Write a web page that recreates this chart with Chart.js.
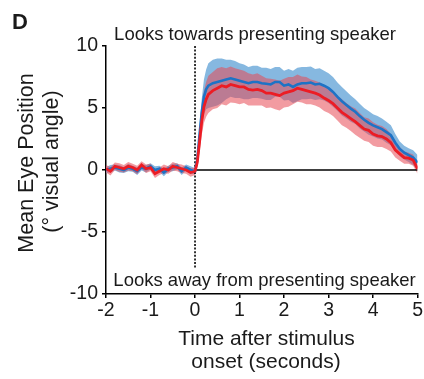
<!DOCTYPE html>
<html>
<head>
<meta charset="utf-8">
<script src="https://cdn.jsdelivr.net/npm/chart.js@4.4.1/dist/chart.umd.min.js"></script>
<style>
  html, body { margin: 0; padding: 0; background: #fff; }
  #wrap { width: 424px; height: 379px; position: relative; }
</style>
</head>
<body>
<div id="wrap"><canvas id="c" width="424" height="379"></canvas></div>
<script>
// ---- data ----
const times = [-2.0,-1.9,-1.8,-1.7,-1.6,-1.5,-1.4,-1.3,-1.2,-1.1,-1.0,-0.9,-0.8,-0.7,-0.6,-0.5,-0.4,-0.3,-0.2,-0.1,0.0,
  0.05,0.1,0.15,0.2,0.25,
  0.3,0.4,0.5,0.6,0.7,0.8,0.9,1.0,1.1,1.2,1.3,1.4,1.5,1.6,1.7,1.8,1.9,2.0,2.1,2.2,2.3,2.4,2.5,2.6,2.7,2.8,2.9,3.0,
  3.1,3.2,3.3,3.4,3.5,3.6,3.7,3.8,3.9,4.0,4.1,4.2,4.3,4.4,4.5,4.6,4.7,4.8,4.9,5.0];

const blueMean = [0.0,0.1,0.2,0.1,0.0,0.2,0.1,-0.1,0.2,0.1,0.3,0.0,0.1,-0.2,0.1,0.2,0.3,-0.1,0.2,0.0,-0.1,
  0.8,2.8,4.6,5.9,6.5,
  6.8,7.0,7.1,7.2,7.3,7.4,7.3,7.2,7.1,7.0,
  7.1,7.1,7.0,6.95,6.9,7.1,7.1,6.8,6.9,6.7,
  6.9,7.0,7.0,7.05,6.9,6.95,6.8,6.6,6.3,5.9,
  5.55,5.25,4.95,4.7,4.35,4.05,3.8,3.6,3.45,3.3,
  3.05,2.8,2.2,1.7,1.4,1.2,1.0,0.6];

const blueSem = [0.25,0.3,0.25,0.3,0.25,0.3,0.25,0.3,0.25,0.3,0.25,0.3,0.25,0.3,0.25,0.3,0.25,0.3,0.25,0.3,0.25,
  0.4,0.8,1.1,1.4,1.6,
  1.8,1.9,1.9,1.8,1.6,1.5,1.5,1.4,1.4,1.3,
  1.3,1.3,1.25,1.3,1.25,1.2,1.2,1.2,1.25,1.3,
  1.35,1.3,1.3,1.3,1.25,1.25,1.2,1.2,1.2,1.15,
  1.15,1.1,1.05,1.0,1.0,0.95,0.95,0.9,0.9,0.85,
  0.85,0.8,0.7,0.6,0.55,0.55,0.6,0.6];

const redMean = [0.1,-0.1,0.3,0.2,0.1,0.3,0.2,0.0,0.4,0.1,0.2,-0.3,-0.1,0.1,0.0,0.3,0.2,0.1,0.0,-0.2,-0.1,
  0.6,2.2,3.9,5.1,5.7,
  6.1,6.4,6.6,6.8,6.7,6.9,6.8,6.7,6.7,6.5,
  6.45,6.5,6.4,6.2,6.2,6.1,6.0,6.2,6.3,6.4,
  6.6,6.5,6.4,6.3,6.2,6.05,5.8,5.6,5.35,5.0,
  4.65,4.4,4.15,3.9,3.6,3.3,3.2,2.9,2.75,2.7,
  2.5,2.2,1.6,1.3,1.0,0.95,0.8,0.1];

const redSem = [0.3,0.35,0.3,0.35,0.3,0.35,0.3,0.35,0.3,0.35,0.3,0.35,0.3,0.35,0.3,0.35,0.3,0.35,0.3,0.35,0.3,
  0.4,0.8,1.1,1.3,1.4,
  1.5,1.5,1.6,1.5,1.5,1.45,1.4,1.4,1.3,1.3,
  1.25,1.3,1.2,1.2,1.15,1.2,1.2,1.15,1.2,1.1,
  1.1,1.05,1.1,1.0,1.0,1.0,1.05,1.0,1.0,1.0,
  1.05,1.0,1.0,1.05,1.0,0.95,0.95,0.95,0.9,0.85,
  0.8,0.7,0.6,0.55,0.5,0.45,0.45,0.4];

const xTicks = [-2,-1,0,1,2,3,4,5];
const yTicks = [-10,-5,0,5,10];
const zeroLineX = [0, 5];
const onsetLineY = [10, -8];

const panelLabel = "D";
const topNote = "Looks towards presenting speaker";
const bottomNote = "Looks away from presenting speaker";
const yTitle = ["Mean Eye Position", "(\u00B0 visual angle)"];
const xTitle = ["Time after stimulus", "onset (seconds)"];

// ---- build datasets ----
const pts = (arr) => times.map((t, i) => ({x: t, y: arr[i]}));
const band = (m, s, sign) => times.map((t, i) => ({x: t, y: m[i] + sign * s[i]}));

const FONT = '"Liberation Sans", Arial, Helvetica, sans-serif';
const BLUE = '#1d73c6';
const BLUE_BAND = 'rgba(128,180,222,0.95)';
const RED = '#ec1c24';
const RED_BAND = 'rgba(232,72,84,0.55)';

const textPlugin = {
  id: 'texts',
  afterDraw(chart) {
    const ctx = chart.ctx;
    ctx.save();
    ctx.fillStyle = '#1a1a1a';
    ctx.font = 'bold 22px ' + FONT;
    ctx.textAlign = 'left';
    ctx.textBaseline = 'alphabetic';
    ctx.fillText(panelLabel, 12, 29);
    ctx.font = '18.5px ' + FONT;
    ctx.textAlign = 'center';
    ctx.fillText(topNote, 255, 39.5);
    ctx.fillText(bottomNote, 264.5, 286);
    ctx.font = '21px ' + FONT;
    ctx.fillText(xTitle[0], 266.5, 345);
    ctx.fillText(xTitle[1], 266, 368);
    ctx.font = '21.5px ' + FONT;
    ctx.save();
    ctx.translate(33, 163);
    ctx.rotate(-Math.PI / 2);
    ctx.fillText(yTitle[0], 0, 0);
    ctx.restore();
    ctx.save();
    ctx.translate(57.5, 161.5);
    ctx.rotate(-Math.PI / 2);
    ctx.fillText(yTitle[1], 0, 0);
    ctx.restore();
    ctx.restore();
  }
};

new Chart(document.getElementById('c'), {
  type: 'line',
  data: {
    datasets: [
      { label: 'blueUpper', data: band(blueMean, blueSem, 1), borderWidth: 0, pointRadius: 0,
        backgroundColor: BLUE_BAND, fill: '+1', order: 6 },
      { label: 'blueLower', data: band(blueMean, blueSem, -1), borderWidth: 0, pointRadius: 0,
        fill: false, order: 6 },
      { label: 'redUpper', data: band(redMean, redSem, 1), borderWidth: 0, pointRadius: 0,
        backgroundColor: RED_BAND, fill: '+1', order: 5 },
      { label: 'redLower', data: band(redMean, redSem, -1), borderWidth: 0, pointRadius: 0,
        fill: false, order: 5 },
      { label: 'zero', data: zeroLineX.map(x => ({x, y: 0})), borderColor: '#000', borderWidth: 1.6,
        pointRadius: 0, fill: false, order: 4 },
      { label: 'onset', data: onsetLineY.map(y => ({x: 0, y})), borderColor: '#000', borderWidth: 1.6,
        borderDash: [2, 1.6], pointRadius: 0, fill: false, order: 4 },
      { label: 'blue', data: pts(blueMean), borderColor: BLUE, borderWidth: 2.6, pointRadius: 0,
        fill: false, order: 2 },
      { label: 'red', data: pts(redMean), borderColor: RED, borderWidth: 2.8, pointRadius: 0,
        fill: false, order: 1 }
    ]
  },
  options: {
    responsive: false,
    animation: false,
    devicePixelRatio: 1,
    layout: { padding: { top: 46, right: 6, left: 0, bottom: 0 } },
    plugins: { legend: { display: false }, tooltip: { enabled: false }, title: { display: false } },
    elements: { line: { tension: 0 } },
    scales: {
      x: {
        type: 'linear', min: -2, max: 5,
        afterBuildTicks: (s) => { s.ticks = xTicks.map(v => ({value: v})); },
        afterFit: (s) => { s.height = 85; },
        ticks: { font: { family: FONT, size: 19.5 }, color: '#1a1a1a', padding: 1, maxRotation: 0 },
        grid: { drawOnChartArea: false, drawTicks: true, tickLength: 4, color: '#000', lineWidth: 1.5 },
        border: { display: true, color: '#000', width: 1.5 }
      },
      y: {
        type: 'linear', min: -10, max: 10,
        afterBuildTicks: (s) => { s.ticks = yTicks.map(v => ({value: v})); },
        afterFit: (s) => { s.width = 106; },
        ticks: { font: { family: FONT, size: 19.5 }, color: '#1a1a1a', padding: 4 },
        grid: { drawOnChartArea: false, drawTicks: true, tickLength: 4, color: '#000', lineWidth: 1.5 },
        border: { display: true, color: '#000', width: 1.5 }
      }
    }
  },
  plugins: [textPlugin]
});
</script>
</body>
</html>
